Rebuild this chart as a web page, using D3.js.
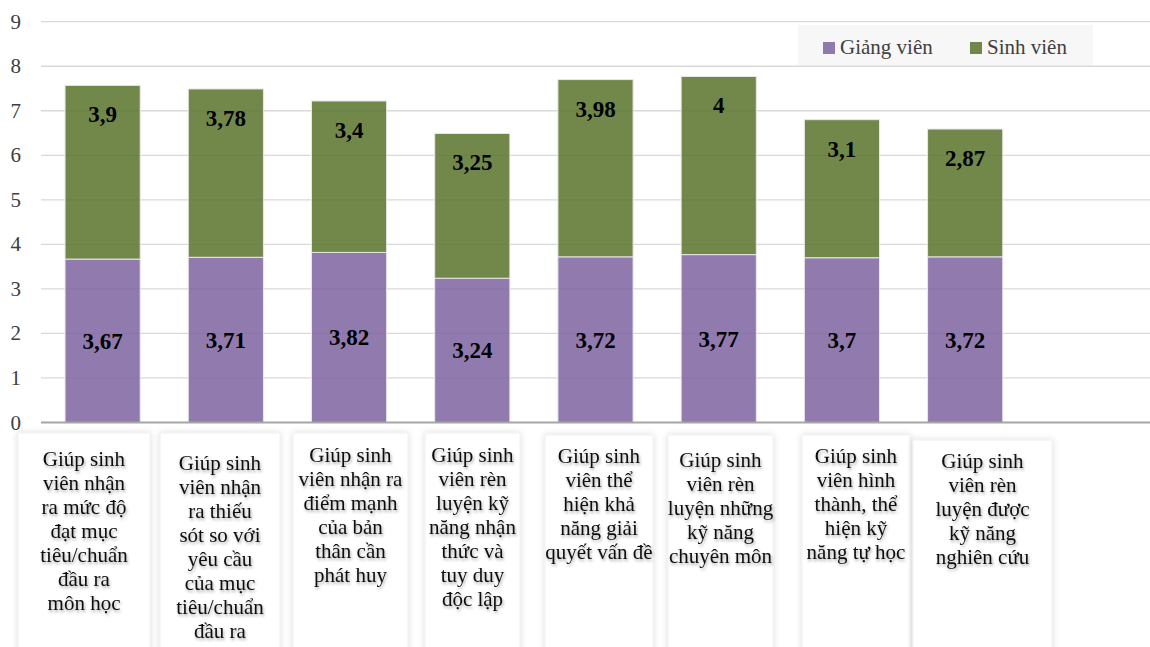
<!DOCTYPE html>
<html>
<head>
<meta charset="utf-8">
<script src="https://cdn.jsdelivr.net/npm/d3@7"></script>
<style>
  body { margin: 0; background: #fff; }
  svg { display: block; }
</style>
</head>
<body>
<div id="chart"></div>
<script>
// data
const categories = [
    ["Giúp sinh", "viên nhận", "ra mức độ", "đạt mục", "tiêu/chuẩn", "đầu ra", "môn học"],
    ["Giúp sinh", "viên nhận", "ra thiếu", "sót so với", "yêu cầu", "của mục", "tiêu/chuẩn", "đầu ra"],
    ["Giúp sinh", "viên nhận ra", "điểm mạnh", "của bản", "thân cần", "phát huy"],
    ["Giúp sinh", "viên rèn", "luyện kỹ", "năng nhận", "thức và", "tuy duy", "độc lập"],
    ["Giúp sinh", "viên thể", "hiện khả", "năng giải", "quyết vấn đề"],
    ["Giúp sinh", "viên rèn", "luyện những", "kỹ năng", "chuyên môn"],
    ["Giúp sinh", "viên hình", "thành, thể", "hiện kỹ", "năng tự học"],
    ["Giúp sinh", "viên rèn", "luyện được", "kỹ năng", "nghiên cứu"]
];
const giangVien = [3.67, 3.71, 3.82, 3.24, 3.72, 3.77, 3.7, 3.72];
const sinhVien = [3.9, 3.78, 3.4, 3.25, 3.98, 4, 3.1, 2.87];
const seriesNames = ["Giảng viên", "Sinh viên"];
const yTicks = [0, 1, 2, 3, 4, 5, 6, 7, 8, 9];

// label box layout (left, right, top, first baseline)
const boxLayout = [
    [18, 150, 433, 466], [160, 280, 433, 470], [293, 408, 433, 462], [425, 520, 433, 462],
    [545, 653, 435, 463], [668, 773, 435, 467], [802, 910, 435, 463], [913, 1052, 440, 468]
];

const width = 1150, height = 647;
const colors = ["#7d63a0", "#58732a"];
const serif = "Liberation Serif, DejaVu Serif, serif";

const svg = d3.select("#chart").append("svg")
    .attr("width", width).attr("height", height)
    .style("font-family", serif);

const defs = svg.append("defs");
const shadow = defs.append("filter").attr("id", "shadow")
    .attr("x", "-20%").attr("y", "-20%").attr("width", "140%").attr("height", "140%");
shadow.append("feDropShadow").attr("dx", 0).attr("dy", 0).attr("stdDeviation", 3)
    .attr("flood-color", "#000").attr("flood-opacity", 0.14);
const tshadow = defs.append("filter").attr("id", "tshadow")
    .attr("x", "-10%").attr("y", "-30%").attr("width", "120%").attr("height", "160%");
tshadow.append("feDropShadow").attr("dx", 1).attr("dy", 2).attr("stdDeviation", 1.6)
    .attr("flood-color", "#000").attr("flood-opacity", 0.35);

const x = d3.scaleBand()
    .domain(d3.range(categories.length + 1))
    .range([41, 1150])
    .paddingInner(0.39)
    .paddingOuter(0.195);

const y = d3.scaleLinear().domain([0, 9]).range([422.5, 21.7]);

// legend background (under gridlines)
svg.append("rect")
    .attr("x", 798).attr("y", 25).attr("width", 295).attr("height", 40)
    .attr("fill", "#f7f7f7");

// gridlines
svg.append("g").selectAll("line")
    .data(yTicks.filter(d => d > 0))
    .enter().append("line")
    .attr("x1", 41).attr("x2", width)
    .attr("y1", d => y(d)).attr("y2", d => y(d))
    .attr("stroke", "#d9d9d9").attr("stroke-width", 1.3);

// y tick labels
svg.append("g").selectAll("text")
    .data(yTicks)
    .enter().append("text")
    .attr("x", 21).attr("y", d => y(d) + 7)
    .attr("text-anchor", "end")
    .style("font-family", serif)
    .attr("font-size", 21).attr("fill", "#404040")
    .text(d => d);

// stacked bars
const rows = giangVien.map((g, i) => ({ i: i, g: g, s: sinhVien[i] }));
const stack = d3.stack().keys(["g", "s"])(rows);

const layers = svg.append("g").selectAll("g")
    .data(stack)
    .enter().append("g")
    .attr("fill", (d, k) => colors[k])
    .attr("fill-opacity", 0.85);

layers.selectAll("rect")
    .data(d => d)
    .enter().append("rect")
    .attr("x", d => x(d.data.i))
    .attr("width", x.bandwidth())
    .attr("y", d => y(d[1]))
    .attr("height", d => y(d[0]) - y(d[1]))
    .attr("stroke", "#e8e8e8").attr("stroke-width", 1);

// baseline
svg.append("line")
    .attr("x1", 41).attr("x2", width)
    .attr("y1", y(0)).attr("y2", y(0))
    .attr("stroke", "#a6a6a6").attr("stroke-width", 2);

// value labels
const fmt = v => String(v).replace(".", ",");
svg.append("g").selectAll("text")
    .data(rows)
    .enter().append("text")
    .attr("x", d => x(d.i) + x.bandwidth() / 2)
    .attr("y", d => (y(0) + y(d.g)) / 2 + 8)
    .attr("text-anchor", "middle")
    .style("font-family", serif)
    .attr("font-size", 23).attr("font-weight", "bold")
    .text(d => fmt(d.g));

svg.append("g").selectAll("text")
    .data(rows)
    .enter().append("text")
    .attr("x", d => x(d.i) + x.bandwidth() / 2)
    .attr("y", d => y(d.g + d.s) + 37)
    .attr("text-anchor", "middle")
    .style("font-family", serif)
    .attr("font-size", 23).attr("font-weight", "bold")
    .text(d => fmt(d.s));

// legend
const legend = svg.append("g");
const legendX = [823, 970];
seriesNames.forEach((name, k) => {
    legend.append("rect")
        .attr("x", legendX[k]).attr("y", 42).attr("width", 12).attr("height", 12)
        .attr("fill", colors[k]).attr("fill-opacity", 0.85);
    legend.append("text")
        .attr("x", legendX[k] + 17).attr("y", 54)
        .style("font-family", serif)
        .attr("font-size", 21).attr("fill", "#404040")
        .text(name);
});

// category label boxes
const boxes = svg.append("g").selectAll("g")
    .data(categories)
    .enter().append("g");

boxes.append("rect")
    .attr("x", (d, i) => boxLayout[i][0])
    .attr("y", (d, i) => boxLayout[i][2])
    .attr("width", (d, i) => boxLayout[i][1] - boxLayout[i][0])
    .attr("height", 260)
    .attr("fill", "#fff")
    .attr("stroke", "#f0f0f0")
    .attr("filter", "url(#shadow)");

boxes.each(function (lines, i) {
    const b = boxLayout[i];
    const t = d3.select(this).append("text")
        .attr("text-anchor", "middle")
        .style("font-family", serif)
        .attr("font-size", 21).attr("fill", "#111")
        .attr("filter", "url(#tshadow)");
    lines.forEach((ln, j) => {
        t.append("tspan")
            .attr("x", (b[0] + b[1]) / 2)
            .attr("y", b[3] + j * 24)
            .text(ln);
    });
});
</script>
</body>
</html>
